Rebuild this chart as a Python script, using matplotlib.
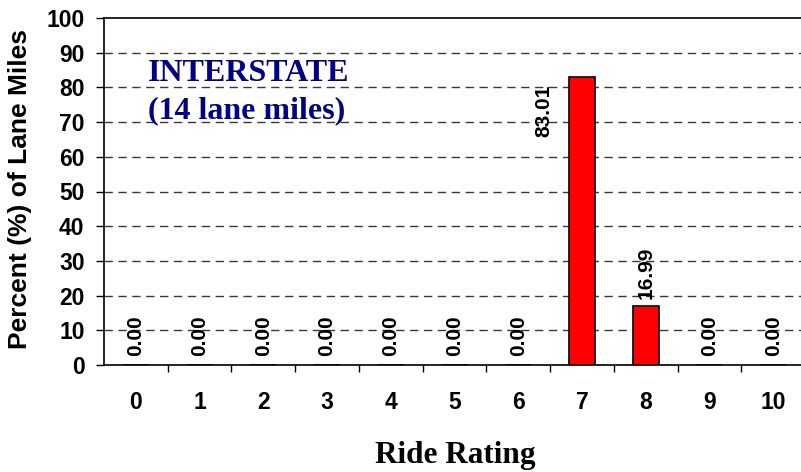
import matplotlib
matplotlib.use("Agg")
import matplotlib.pyplot as plt
from matplotlib.ticker import FixedLocator

categories = ["0", "1", "2", "3", "4", "5", "6", "7", "8", "9", "10"]
values = [0.00, 0.00, 0.00, 0.00, 0.00, 0.00, 0.00, 83.01, 16.99, 0.00, 0.00]
yticks = [0, 10, 20, 30, 40, 50, 60, 70, 80, 90, 100]

fig = plt.figure(figsize=(8.01, 4.72), dpi=100)
ax = fig.add_axes([104/801, 1 - 365/472, 701/801, (365 - 18)/472])

x = list(range(len(categories)))
ax.bar(x, values, width=0.41, color="#ff0000", edgecolor="black", linewidth=1.2, zorder=3)

ax.set_xlim(-0.5, len(categories) - 0.5)
ax.set_ylim(0, 100)
ax.set_yticks(yticks)
ax.set_yticklabels([str(v) for v in yticks], fontfamily="Liberation Sans",
                   fontweight="bold", fontsize=16.5)
ax.set_xticks(x)
ax.set_xticklabels(categories, fontfamily="Liberation Sans", fontweight="bold", fontsize=16.5)
ax.xaxis.set_minor_locator(FixedLocator([k - 0.5 for k in range(1, len(categories) + 1)]))
ax.tick_params(axis="x", which="major", length=0, pad=19)
ax.tick_params(axis="x", which="minor", length=5, width=1, direction="out")
ax.tick_params(axis="y", length=6, width=1, direction="out", pad=8)

for y in yticks[1:-1]:
    ax.axhline(y, color="#383838", linewidth=1.0, linestyle=(0, (6, 4)), zorder=1)

for s in ["left", "bottom", "top", "right"]:
    ax.spines[s].set_linewidth(1.2)
    ax.spines[s].set_color("black")

for xi, v in zip(x, values):
    if v == 0:
        ax.annotate(f"{v:.2f}", (xi, 0), xytext=(0, 9), textcoords="offset pixels",
                    rotation=90, ha="center", va="bottom", fontfamily="Liberation Sans",
                    fontweight="bold", fontsize=15)
    elif v > 50:
        ax.annotate(f"{v:.2f}", (xi - 0.59, v), xytext=(0, -8), textcoords="offset pixels",
                    rotation=90, ha="center", va="top", fontfamily="Liberation Sans",
                    fontweight="bold", fontsize=15)
    else:
        ax.annotate(f"{v:.2f}", (xi, v), xytext=(0, 7), textcoords="offset pixels",
                    rotation=90, ha="center", va="bottom", fontfamily="Liberation Sans",
                    fontweight="bold", fontsize=15)

fig.text(148/801, 1 - 81/472, "INTERSTATE", ha="left", va="baseline",
         fontfamily="Liberation Serif", fontweight="bold", fontsize=23, color="#000080")
fig.text(148/801, 1 - 118/472, "(14 lane miles)", ha="left", va="baseline",
         fontfamily="Liberation Serif", fontweight="bold", fontsize=23, color="#000080")

fig.text(20/801, 1 - 189/472, "Percent (%) of Lane Miles", rotation=90, ha="center",
         va="center", fontfamily="Liberation Sans", fontweight="bold", fontsize=19)
fig.text(455/801, 1 - 456/472, "Ride Rating", ha="center", va="center",
         fontfamily="Liberation Serif", fontweight="bold", fontsize=22.5)

fig.savefig("out.png", dpi=100)
